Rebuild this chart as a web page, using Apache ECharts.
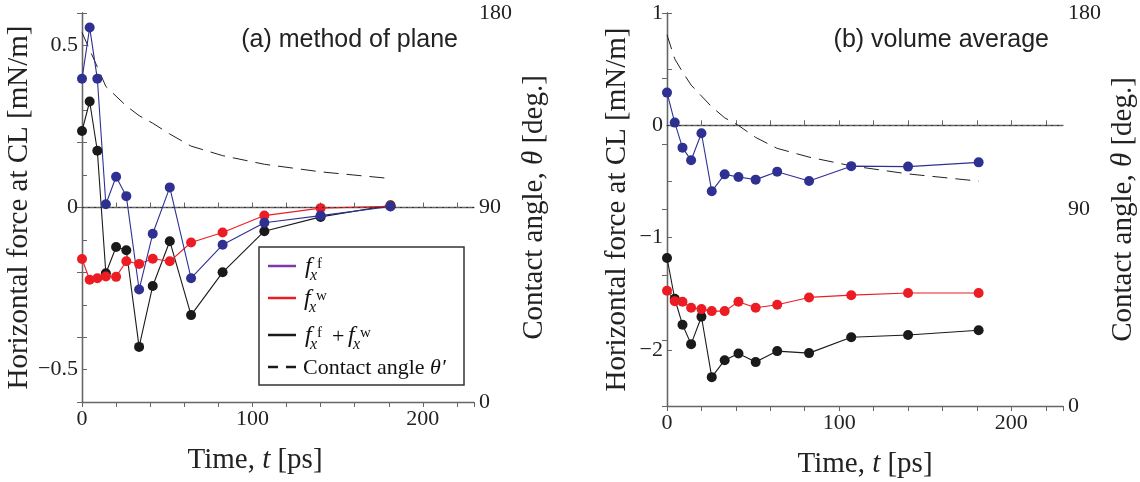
<!DOCTYPE html>
<html>
<head>
<meta charset="utf-8">
<script src="https://cdn.jsdelivr.net/npm/echarts@6/dist/echarts.min.js"></script>
<style>
html, body { margin: 0; padding: 0; background: #fff; }
#chart { width: 1140px; height: 482px; }
</style>
</head>
<body>
<div id="chart"></div>
<script>
// time of each snapshot [ps]
var timePs = [0, 4.5, 9, 14, 20, 26, 33.5, 41.5, 51.5, 64, 82.5, 107, 140, 181];

// (a) method of plane
var forceFluidA = [0.397, 0.555, 0.397, 0.010, 0.095, 0.035, -0.253, -0.081, 0.062, -0.218, -0.115, -0.047, -0.025, 0.003];
var forceWallA = [-0.159, -0.223, -0.218, -0.213, -0.214, -0.166, -0.174, -0.158, -0.166, -0.108, -0.077, -0.025, -0.002, 0.004];
var forceSumA = [0.236, 0.327, 0.175, -0.203, -0.122, -0.132, -0.430, -0.242, -0.104, -0.332, -0.200, -0.073, -0.029, 0.007];
var angleA = [171, 163, 155, 146, 141.5, 137, 132.5, 129, 124, 118.4, 114, 110, 106.5, 103.4];

// (b) volume average
var forceFluidB = [0.291, 0.024, -0.199, -0.312, -0.071, -0.588, -0.437, -0.46, -0.484, -0.413, -0.496, -0.364, -0.368, -0.33];
var forceWallB = [-1.473, -1.566, -1.572, -1.625, -1.637, -1.655, -1.655, -1.572, -1.625, -1.598, -1.533, -1.513, -1.494, -1.494];
var forceSumB = [-1.182, -1.545, -1.776, -1.949, -1.705, -2.243, -2.092, -2.032, -2.109, -2.011, -2.029, -1.888, -1.868, -1.826];
var angleB = [170, 159, 153, 147, 142, 137, 132, 128.5, 123, 118, 114, 110, 106.3, 103];

var xTickLabels = [0, 100, 200];
var angleTickLabels = [0, 90, 180];

var SERIF = 'Liberation Serif';
var BLUE = '#2e3192';
var RED = '#ec1c24';
var BLACK = '#1a1a1a';
var AXIS = '#666';

function pairs(values) {
    return timePs.map(function (t, i) { return [t, values[i]]; });
}

function minusSign(v) {
    return v < 0 ? '\u2212' + (-v) : String(v);
}

var labelStyle = { fontFamily: SERIF, fontSize: 22, color: '#222' };
var nameRich = { i: { fontFamily: SERIF, fontSize: 29, fontStyle: 'italic', color: '#222' } };

function xAxis(grid, top, padRight) {
    return {
        type: 'value', gridIndex: grid, position: top ? 'top' : 'bottom',
        min: 0, max: 230, interval: 20,
        name: top ? '' : 'Time, {i|t} [ps]',
        nameLocation: 'middle', nameGap: 44,
        nameTextStyle: { fontFamily: SERIF, fontSize: 29, color: '#222', padding: [0, padRight || 0, 0, 0], rich: nameRich },
        axisLine: { show: true, lineStyle: { color: AXIS, width: 1.3 } },
        axisTick: { show: true, inside: true, length: 5, lineStyle: { color: AXIS } },
        axisLabel: Object.assign({
            show: !top, margin: 6, showMaxLabel: false,
            formatter: function (v) { return xTickLabels.indexOf(v) >= 0 ? String(v) : ''; }
        }, labelStyle),
        splitLine: { show: false }
    };
}

function angleAxis(grid) {
    return {
        type: 'value', gridIndex: grid, position: 'right',
        min: 0, max: 180, interval: 30,
        name: 'Contact angle, {i|\u03b8} [deg.]',
        nameLocation: 'middle', nameGap: 46,
        nameTextStyle: { fontFamily: SERIF, fontSize: 29, color: '#222', rich: nameRich },
        axisLine: { show: true, lineStyle: { color: AXIS, width: 1.3 } },
        axisTick: { show: true, inside: true, length: 5, lineStyle: { color: AXIS } },
        axisLabel: Object.assign({
            margin: 5,
            formatter: function (v) { return angleTickLabels.indexOf(v) >= 0 ? String(v) : ''; }
        }, labelStyle),
        splitLine: { show: false }
    };
}

function forceAxis(grid, min, max, step, labelStep, gap) {
    return {
        type: 'value', gridIndex: grid, position: 'left',
        min: min, max: max, interval: step,
        name: 'Horizontal force at CL [mN/m]',
        nameLocation: 'middle', nameGap: gap,
        nameTextStyle: { fontFamily: SERIF, fontSize: 29, color: '#222' },
        axisLine: { show: true, lineStyle: { color: AXIS, width: 1.3 } },
        axisTick: { show: true, inside: true, length: 5, lineStyle: { color: AXIS } },
        axisLabel: Object.assign({
            margin: 4,
            formatter: function (v) {
                var r = Math.round(v / labelStep);
                if (Math.abs(v - r * labelStep) > 1e-6) return '';
                if (Math.abs(v - min) < 1e-6 && Math.abs(min % labelStep) > 1e-6) return '';
                var s = Math.round(v * 10) / 10;
                return minusSign(s);
            }
        }, labelStyle),
        splitLine: { show: false }
    };
}

function forceLine(name, xi, yi, values, color, zero) {
    var s = {
        name: name, type: 'line', xAxisIndex: xi, yAxisIndex: yi,
        data: pairs(values), symbol: 'circle', symbolSize: 10, showSymbol: true,
        lineStyle: { color: color, width: 1.1 },
        itemStyle: { color: color },
        animation: false
    };
    if (zero) {
        s.markLine = {
            silent: true, symbol: 'none', animation: false,
            label: { show: false },
            lineStyle: { color: '#333', type: [2, 4], width: 1 },
            data: [{ yAxis: 0 }]
        };
    }
    return s;
}

function angleLine(xi, yi, values) {
    return {
        name: 'angle', type: 'line', xAxisIndex: xi, yAxisIndex: yi,
        data: pairs(values), showSymbol: false, symbol: 'none',
        lineStyle: { color: '#222', width: 1, type: [15, 8] },
        animation: false
    };
}

// f_x^sup written with small text pieces
function fx(x, y, sup) {
    return [
        { type: 'text', x: x, y: y + 1, style: { text: 'f', font: 'italic 24px "' + SERIF + '"', fill: '#111', verticalAlign: 'middle' } },
        { type: 'text', x: x + 5, y: y + 9.5, style: { text: 'x', font: 'italic 16px "' + SERIF + '"', fill: '#111', verticalAlign: 'middle' } },
        { type: 'text', x: x + 12, y: y - 2, style: { text: sup, font: '15px "' + SERIF + '"', fill: '#111', verticalAlign: 'middle' } }
    ];
}

var legendRows = [266, 298, 335, 367];
var legendEls = [
    { type: 'rect', shape: { x: 259, y: 247, width: 205, height: 138 }, style: { fill: '#fff', stroke: '#333', lineWidth: 1.5 }, z: 10 },
    { type: 'line', shape: { x1: 268, y1: legendRows[0], x2: 296, y2: legendRows[0] }, style: { stroke: '#7a3aa8', lineWidth: 2.5 }, z: 11 },
    { type: 'line', shape: { x1: 268, y1: legendRows[1], x2: 296, y2: legendRows[1] }, style: { stroke: RED, lineWidth: 2.5 }, z: 11 },
    { type: 'line', shape: { x1: 268, y1: legendRows[2], x2: 296, y2: legendRows[2] }, style: { stroke: BLACK, lineWidth: 2.5 }, z: 11 },
    { type: 'line', shape: { x1: 268, y1: legendRows[3], x2: 297, y2: legendRows[3] }, style: { stroke: BLACK, lineWidth: 2.5, lineDash: [10, 8] }, z: 11 },
    { type: 'text', x: 332, y: legendRows[2] + 2, z: 11, style: { text: '+', font: '22px "' + SERIF + '"', fill: '#111', verticalAlign: 'middle' } },
    { type: 'text', x: 303, y: legendRows[3] + 1, z: 11, style: {
        text: 'Contact angle {i|\u03b8\u2032}', fontFamily: SERIF, fontSize: 22, fill: '#111', verticalAlign: 'middle',
        rich: { i: { fontFamily: SERIF, fontSize: 22, fontStyle: 'italic', fill: '#111' } }
    } }
];
[[305, legendRows[0], 'f'], [304, legendRows[1], 'w'], [305, legendRows[2], 'f'], [348, legendRows[2], 'w']].forEach(function (p) {
    fx(p[0], p[1], p[2]).forEach(function (el) { el.z = 11; legendEls.push(el); });
});

var panelTitles = [
    { type: 'text', x: 458, y: 40, style: { text: '(a) method of plane', font: '25px "Liberation Sans"', fill: '#222', align: 'right', verticalAlign: 'middle' } },
    { type: 'text', x: 1049, y: 40, style: { text: '(b) volume average', font: '25px "Liberation Sans"', fill: '#222', align: 'right', verticalAlign: 'middle' } }
];

var chart = echarts.init(document.getElementById('chart'));
var option = {
    animation: false,
    backgroundColor: '#fff',
    grid: [
        { left: 82, top: 13, width: 392, height: 389, outerBoundsMode: 'none' },
        { left: 667, top: 13, width: 396, height: 393, outerBoundsMode: 'none' }
    ],
    xAxis: [xAxis(0, false, 46), xAxis(0, true), xAxis(1, false), xAxis(1, true)],
    yAxis: [
        forceAxis(0, -0.6, 0.6, 0.1, 0.5, 45),
        angleAxis(0),
        forceAxis(1, -2.5, 1, 0.5, 1, 35),
        angleAxis(1)
    ],
    series: [
        angleLine(0, 1, angleA),
        forceLine('sumA', 0, 0, forceSumA, BLACK, false),
        forceLine('wallA', 0, 0, forceWallA, RED, false),
        forceLine('fluidA', 0, 0, forceFluidA, BLUE, true),
        angleLine(2, 3, angleB),
        forceLine('sumB', 2, 2, forceSumB, BLACK, false),
        forceLine('wallB', 2, 2, forceWallB, RED, false),
        forceLine('fluidB', 2, 2, forceFluidB, BLUE, true)
    ],
    graphic: legendEls.concat(panelTitles)
};
chart.setOption(option);
</script>
</body>
</html>
